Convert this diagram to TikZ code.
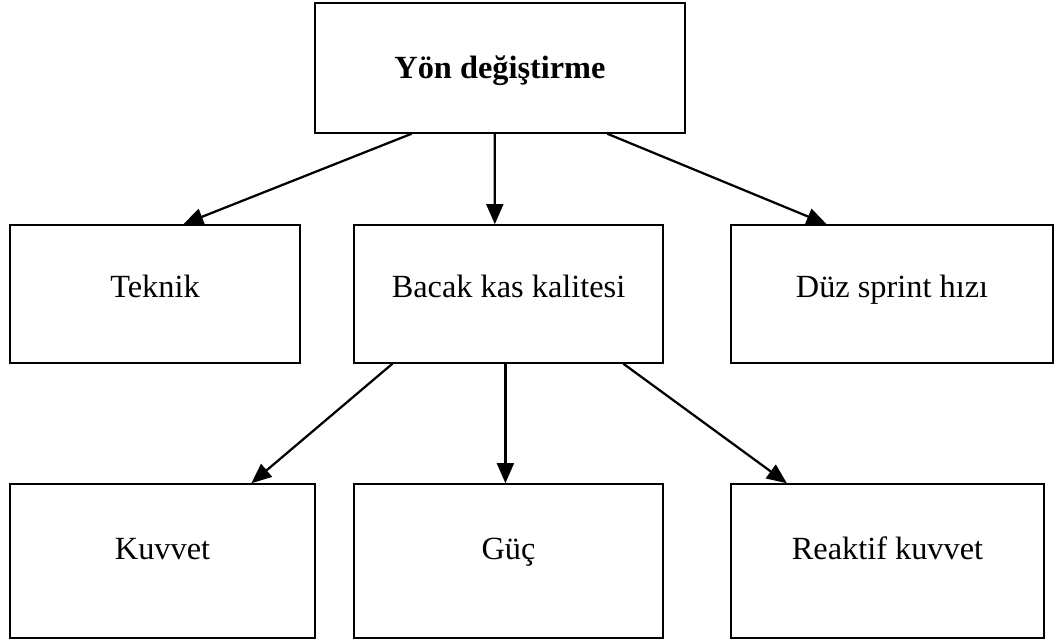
\documentclass[tikz,border=0pt]{standalone}
\usepackage{fontspec}
\setmainfont{Liberation Serif}
\usetikzlibrary{arrows.meta,calc}
\tikzset{
  kutu/.style={rectangle,draw=black,line width=1.1pt,fill=white,
               minimum width=#1,align=center,inner sep=0pt,
               text height=0.6cm,
               font=\fontsize{23}{27}\selectfont},
  kutu/.default=7.7cm,
  ok/.style={-{Triangle[length=0.5cm,width=0.42cm]},line width=1.6pt},
}
\begin{document}
\begin{tikzpicture}

    \useasboundingbox (0,0) rectangle (26.4,16.025);

    % Ust kutu
    \node[kutu=9.25cm,minimum height=3.25cm,text depth=0.05cm] (yon) at (12.5,14.325)
        {\textbf{Yön değiştirme}};

    % Orta sira
    \node[kutu=7.25cm,minimum height=3.45cm,text depth=0.4cm] (teknik) at (3.875,8.675) {Teknik};
    \node[kutu=7.725cm,minimum height=3.45cm,text depth=0.4cm] (bacak) at (12.7125,8.675) {Bacak kas kalitesi};
    \node[kutu=8.05cm,minimum height=3.45cm,text depth=0.4cm] (sprint) at (22.3,8.675) {Düz sprint hızı};

    % Alt sira
    \node[kutu=7.625cm,minimum height=3.85cm,text depth=0.65cm] (kuvvet) at (4.0625,2.0) {Kuvvet};
    \node[kutu=7.725cm,minimum height=3.85cm,text depth=0.65cm] (guc) at (12.7125,2.0) {Güç};
    \node[kutu=7.825cm,minimum height=3.85cm,text depth=0.65cm] (reaktif) at (22.1875,2.0) {Reaktif kuvvet};

    \draw[ok] ($(yon.south west)!0.262!(yon.south east)$) -- ($(teknik.north west)!0.597!(teknik.north east)$);
    \draw[ok] ($(yon.south west)!0.486!(yon.south east)$) -- ($(bacak.north west)!0.456!(bacak.north east)$);
    \draw[ok] ($(yon.south west)!0.789!(yon.south east)$) -- ($(sprint.north west)!0.298!(sprint.north east)$);
    \draw[ok] ($(bacak.south west)!0.126!(bacak.south east)$) -- ($(kuvvet.north west)!0.79!(kuvvet.north east)$);
    \draw[ok] ($(bacak.south west)!0.49!(bacak.south east)$) -- ($(guc.north west)!0.49!(guc.north east)$);
    \draw[ok] ($(bacak.south west)!0.87!(bacak.south east)$) -- ($(reaktif.north west)!0.18!(reaktif.north east)$);

  \end{tikzpicture}
\end{document}
